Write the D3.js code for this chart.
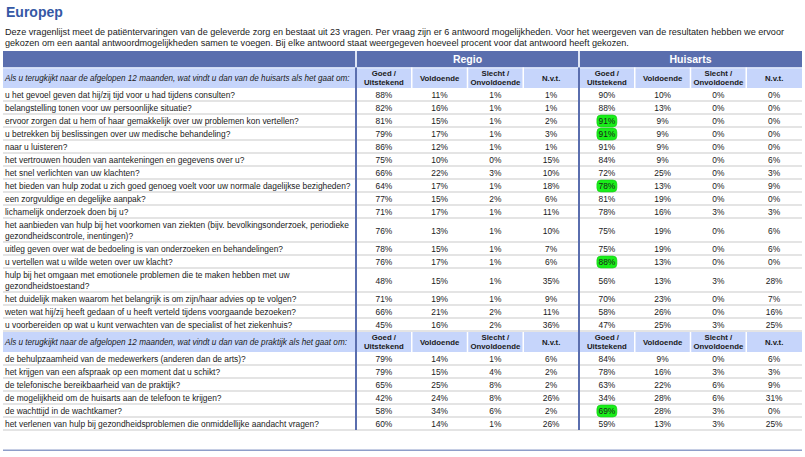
<!DOCTYPE html>
<html><head><meta charset="utf-8">
<script src="https://cdn.jsdelivr.net/npm/d3@7"></script>
<style>body{margin:0;background:#fff;}svg{display:block;font-family:"Liberation Sans",Arial,sans-serif;}</style>
</head><body><svg id="c" width="805" height="457"></svg>
<script>
const titleText = "Europep";
const introLines = [
  "Deze vragenlijst meet de patiëntervaringen van de geleverde zorg en bestaat uit 23 vragen. Per vraag zijn er 6 antwoord mogelijkheden. Voor het weergeven van de resultaten hebben we ervoor",
  "gekozen om een aantal antwoordmogelijkheden samen te voegen. Bij elke antwoord staat weergegeven hoeveel procent voor dat antwoord heeft gekozen."
];
const groups = ["Regio", "Huisarts"];
const answerCols = [["Goed /", "Uitstekend"], ["Voldoende"], ["Slecht /", "Onvoldoende"], ["N.v.t."]];
const sectionHeaders = [
  "Als u terugkijkt naar de afgelopen 12 maanden, wat vindt u dan van de huisarts als het gaat om:",
  "Als u terugkijkt naar de afgelopen 12 maanden, wat vindt u dan van de praktijk als het gaat om:"
];
const questions1 = [
  ["u het gevoel geven dat hij/zij tijd voor u had tijdens consulten?"],
  ["belangstelling tonen voor uw persoonlijke situatie?"],
  ["ervoor zorgen dat u hem of haar gemakkelijk over uw problemen kon vertellen?"],
  ["u betrekken bij beslissingen over uw medische behandeling?"],
  ["naar u luisteren?"],
  ["het vertrouwen houden van aantekeningen en gegevens over u?"],
  ["het snel verlichten van uw klachten?"],
  ["het bieden van hulp zodat u zich goed genoeg voelt voor uw normale dagelijkse bezigheden?"],
  ["een zorgvuldige en degelijke aanpak?"],
  ["lichamelijk onderzoek doen bij u?"],
  ["het aanbieden van hulp bij het voorkomen van ziekten (bijv. bevolkingsonderzoek, periodieke", "gezondheidscontrole, inentingen)?"],
  ["uitleg geven over wat de bedoeling is van onderzoeken en behandelingen?"],
  ["u vertellen wat u wilde weten over uw klacht?"],
  ["hulp bij het omgaan met emotionele problemen die te maken hebben met uw", "gezondheidstoestand?"],
  ["het duidelijk maken waarom het belangrijk is om zijn/haar advies op te volgen?"],
  ["weten wat hij/zij heeft gedaan of u heeft verteld tijdens voorgaande bezoeken?"],
  ["u voorbereiden op wat u kunt verwachten van de specialist of het ziekenhuis?"]
];
const regio1 = [[88,11,1,1],[82,16,1,1],[81,15,1,2],[79,17,1,3],[86,12,1,1],[75,10,0,15],[66,22,3,10],[64,17,1,18],[77,15,2,6],[71,17,1,11],[76,13,1,10],[78,15,1,7],[76,17,1,6],[48,15,1,35],[71,19,1,9],[66,21,2,11],[45,16,2,36]];
const huisarts1 = [[90,10,0,0],[88,13,0,0],[91,9,0,0],[91,9,0,0],[91,9,0,0],[84,9,0,6],[72,25,0,3],[78,13,0,9],[81,19,0,0],[78,16,3,3],[75,19,0,6],[75,19,0,6],[88,13,0,0],[56,13,3,28],[70,23,0,7],[58,26,0,16],[47,25,3,25]];
const highlight1 = [2, 3, 7, 12];
const questions2 = [
  ["de behulpzaamheid van de medewerkers (anderen dan de arts)?"],
  ["het krijgen van een afspraak op een moment dat u schikt?"],
  ["de telefonische bereikbaarheid van de praktijk?"],
  ["de mogelijkheid om de huisarts aan de telefoon te krijgen?"],
  ["de wachttijd in de wachtkamer?"],
  ["het verlenen van hulp bij gezondheidsproblemen die onmiddellijke aandacht vragen?"]
];
const regio2 = [[79,14,1,6],[79,15,4,2],[65,25,8,2],[42,24,8,26],[58,34,6,2],[60,14,1,26]];
const huisarts2 = [[84,9,0,6],[78,16,3,3],[63,22,6,9],[34,28,6,31],[69,28,3,0],[59,13,3,25]];
const highlight2 = [4];

const DARK = "#5a6eae", LIGHT = "#c6d5fb", SEP = "#e4e4e4", TXT = "#1a1a1a";
const svg = d3.select("#c");
const left = 3, splitX = 356, right = 802;

svg.append("text").attr("x", 6).attr("y", 17).attr("font-size", 14).attr("font-weight", "bold")
  .attr("fill", "#3558a5").text(titleText);
svg.selectAll("text.intro").data(introLines).join("text").attr("class", "intro")
  .attr("x", 5).attr("y", (d, i) => 34.5 + i * 11.5).attr("font-size", 9.1).attr("fill", TXT).text(d => d);

const colKeys = d3.range(8);
const x = d3.scaleBand().domain(colKeys).range([splitX, right]);

const rows = [];
let y = 51;
rows.push({type: "band", y0: y, h: 16.5}); y += 16.5;
function addSection(hdr, qs, reg, hui, hl, hh) {
  rows.push({type: "header", y0: y, h: hh, text: hdr}); y += hh;
  qs.forEach((q, i) => {
    const h = q.length > 1 ? 24 : 13;
    rows.push({type: "data", y0: y, h, q, vals: reg[i].concat(hui[i]), hl: hl.includes(i)});
    y += h;
  });
}
addSection(sectionHeaders[0], questions1, regio1, huisarts1, highlight1, 20.5);
addSection(sectionHeaders[1], questions2, regio2, huisarts2, highlight2, 21);
const tableBottom = y;

const band = rows[0];
svg.append("rect").attr("x", left).attr("y", band.y0).attr("width", right - left).attr("height", band.h).attr("fill", DARK);
[splitX, x(4)].forEach(sx => svg.append("rect").attr("x", sx - 1).attr("y", band.y0).attr("width", 2).attr("height", band.h).attr("fill", "#dfe5f5"));
groups.forEach((g, gi) => {
  const cx = (x(gi * 4) + x(gi * 4 + 3) + x.bandwidth()) / 2;
  svg.append("text").attr("x", cx).attr("y", band.y0 + band.h / 2 + 4).attr("text-anchor", "middle")
    .attr("font-size", 10.5).attr("font-weight", "bold").attr("fill", "#fff").text(g);
});

rows.filter(r => r.type === "header").forEach(r => {
  svg.append("rect").attr("x", left).attr("y", r.y0).attr("width", right - left).attr("height", r.h).attr("fill", LIGHT);
  svg.append("rect").attr("x", left).attr("y", r.y0).attr("width", right - left).attr("height", 1).attr("fill", "#e8eefc");
  colKeys.forEach(k => {
    if (k !== 0 && k !== 4) svg.append("rect").attr("x", x(k) - 0.75).attr("y", r.y0).attr("width", 1.5).attr("height", r.h).attr("fill", "#fff");
  });
  svg.append("text").attr("x", 5).attr("y", r.y0 + r.h / 2 + 3).attr("font-size", 8.15).attr("font-style", "italic")
    .attr("fill", TXT).text(r.text);
  colKeys.forEach(k => {
    const lines = answerCols[k % 4];
    const cx = x(k) + x.bandwidth() / 2;
    lines.forEach((ln, li) => {
      svg.append("text").attr("x", cx).attr("y", r.y0 + r.h / 2 + 3 + (lines.length > 1 ? (li - 0.5) * 9 : 0))
        .attr("text-anchor", "middle").attr("font-size", 7.8).attr("font-weight", "bold").attr("fill", TXT).text(ln);
    });
  });
});

rows.filter(r => r.type === "data").forEach(r => {
  svg.append("rect").attr("x", left).attr("y", r.y0 + r.h - 1).attr("width", right - left).attr("height", 2).attr("fill", SEP);
  const cy = r.y0 + r.h / 2 + 0.5;
  r.q.forEach((ln, li) => {
    svg.append("text").attr("x", 5).attr("y", cy + 3.2 + (r.q.length > 1 ? (li - 0.5) * 11 : 0))
      .attr("font-size", 8.4).attr("fill", TXT).text(ln);
  });
  r.vals.forEach((v, k) => {
    const cx = x(k) + x.bandwidth() / 2;
    if (k === 4 && r.hl) {
      svg.append("rect").attr("x", cx - 10).attr("y", cy - 6).attr("width", 20).attr("height", 12).attr("rx", 4)
        .attr("fill", "#19ee19").attr("stroke", "#14c914").attr("stroke-width", 0.6);
    }
    svg.append("text").attr("x", cx).attr("y", cy + 3).attr("text-anchor", "middle")
      .attr("font-size", 8.4).attr("fill", TXT).text(v + "%");
  });
});

const firstHeader = rows[1].y0;
[splitX, x(4)].forEach(sx => svg.append("rect").attr("x", sx - 1).attr("y", firstHeader).attr("width", 2)
  .attr("height", tableBottom - firstHeader).attr("fill", DARK));

svg.append("rect").attr("x", left).attr("y", 449.5).attr("width", right - left).attr("height", 1.5).attr("fill", "#8e9ec9");
</script></body></html>
